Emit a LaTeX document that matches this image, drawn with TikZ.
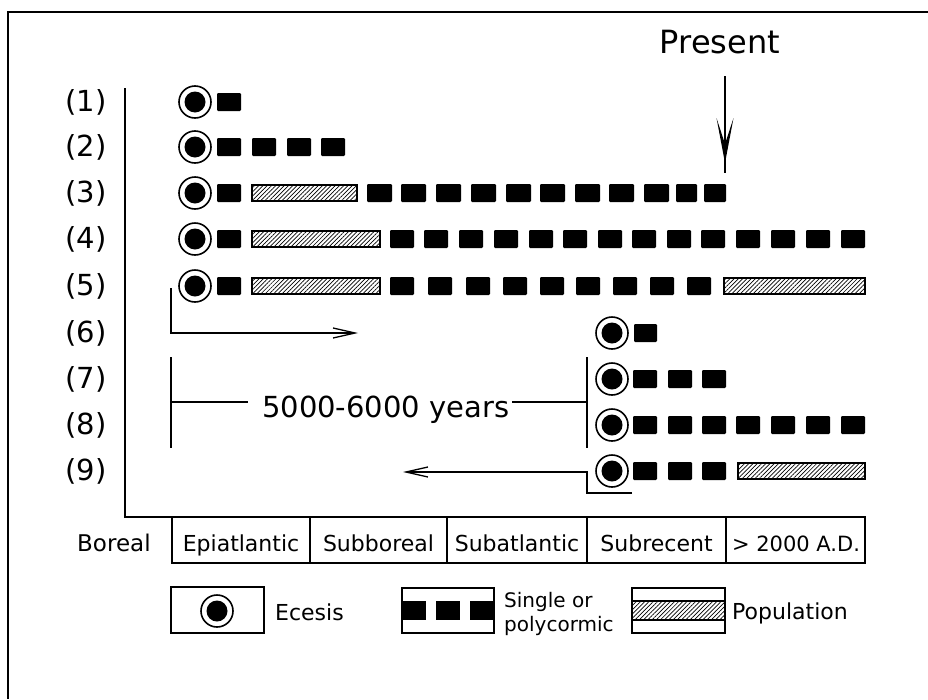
\documentclass[tikz,border=0pt]{standalone}
\usepackage{fontspec}
\setmainfont{DejaVu Sans}
\usetikzlibrary{arrows.meta,patterns.meta}
\newcommand{\fsz}[1]{\fontsize{#1}{#1}\selectfont}
\begin{document}
\begin{tikzpicture}[x=1pt,y=-1pt,
  blk/.style={fill=black,rounded corners=1.2pt},
  hatch/.style={draw=black,line width=1.1pt,pattern={Lines[angle=45,distance=3pt,line width=0.7pt]}},
  ecesis/.style={circle,draw,line width=1.6pt,minimum size=32pt,inner sep=0pt,
    path picture={\fill[black] (path picture bounding box.center) circle (10.5pt);}},
  rowlab/.style={font=\fsz{29},inner sep=0pt},
  axlab/.style={font=\fsz{22},inner sep=0pt,anchor=base},
  leglab/.style={font=\fsz{22},inner sep=0pt,anchor=base west},
  thin/.style={line width=1.3pt},
  barb/.style={thin,-{Straight Barb[length=22pt,width=10pt,line width=1.3pt]}}
]
\useasboundingbox (0,0) rectangle (928,699);
% frame
\draw[line width=2pt] (928,12) -- (8,12) -- (8,699);
% axes
\coordinate (axtop) at (125,88);
\coordinate (axorig) at (125,517);
\coordinate (axend) at (865,517);
\draw[thin] (axtop) -- (axorig) -- (axend);
% row labels
\foreach \n/\yy in {1/102,2/147,3/193,4/239,5/286,6/333,7/379,8/425,9/471}
  \node[rowlab] (lab\n) at (86,\yy) {(\n)};
% present
\node[font=\fsz{32},inner sep=0pt] (present) at (720,42) {Present};
\coordinate (presTop) at (725,76);
\coordinate (presTip) at (725,163);
\draw[thin] (presTop) -- ([yshift=-10pt]presTip);
\fill[black] (presTip) -- ++(-8.5,-45) -- ++(8.5,26) -- ++(8.5,-26) -- cycle;
% ecesis circles
\foreach \n/\xx/\yy in {1/195/102,2/195/147,3/195/193,4/195/239,5/195/286,6/612/333,7/612/379,8/612/425,9/612/471}
  \node[ecesis] (ec\n) at (\xx,\yy) {};
% row 1
\fill[blk] (217,93) rectangle ++(24,18);
% row 2
\foreach \x in {217,252,287,321} \fill[blk] (\x,138) rectangle ++(24,18);
% row 3
\fill[blk] (217,184) rectangle ++(24,18);
\draw[hatch] (252,185) rectangle (357,201);
\foreach \x in {367,401,436,471,506,540,575,609,644} \fill[blk] (\x,184) rectangle ++(25,18);
\fill[blk] (676,184) rectangle (697,202);
\fill[blk] (704,184) rectangle (726,202);
% row 4
\fill[blk] (217,230) rectangle ++(24,18);
\draw[hatch] (252,231) rectangle (380,247);
\foreach \x in {390,424,459,494,529,563,598,632,667,701,736,771,806,841} \fill[blk] (\x,230) rectangle ++(24,18);
% row 5
\fill[blk] (217,277) rectangle ++(24,18);
\draw[hatch] (252,278) rectangle (380,294);
\foreach \x in {390,428,466,503,540,576,613,650,687} \fill[blk] (\x,277) rectangle ++(24,18);
\draw[hatch] (724,278) rectangle (865,294);
% row 6
\fill[blk] (634,324) rectangle ++(23,18);
% row 7
\foreach \x in {633,668,702} \fill[blk] (\x,370) rectangle ++(24,18);
% row 8
\foreach \x in {633,668,702,736,771,806,841} \fill[blk] (\x,416) rectangle ++(24,18);
% row 9
\foreach \x in {633,668,702} \fill[blk] (\x,462) rectangle ++(24,18);
\draw[hatch] (738,463) rectangle (865,479);
% L arrow (row 6)
\coordinate (lTop) at (171,288);
\coordinate (lTip) at (358,333);
\draw[barb] (lTop) |- (lTip);
% bracket
\coordinate (bLt) at (171,357);
\coordinate (bLb) at (171,448);
\coordinate (bLm) at (171,402);
\coordinate (bRt) at (587,357);
\coordinate (bRb) at (587,448);
\coordinate (bRm) at (587,402);
\node[font=\fsz{29},inner sep=0pt,anchor=base west] (years) at (262,417) {5000-6000 years};
\coordinate (yl) at (248,402);
\coordinate (yr) at (512,402);
\draw[thin] (bLt) -- (bLb);
\draw[thin] (bRt) -- (bRb);
\draw[thin] (bLm) -- (yl);
\draw[thin] (yr) -- (bRm);
% row 9 arrow
\coordinate (r9end) at (632,493);
\coordinate (r9corner) at (587,472);
\coordinate (r9tip) at (403,472);
\draw[barb] (r9end) -| (r9corner) -- (r9tip);
% timeline boxes
\draw[line width=1.5pt] (172,517) rectangle (865,563);
\foreach \x in {310,447,587,726} \draw[line width=1.5pt] (\x,517) -- (\x,563);
\node[axlab,anchor=base west,font=\fsz{23}] (boreal) at (77,551) {Boreal};
\node[axlab] (epi) at (241,551) {Epiatlantic};
\node[axlab] (subb) at (378.5,551) {Subboreal};
\node[axlab] (suba) at (517,551) {Subatlantic};
\node[axlab] (subr) at (656.5,551) {Subrecent};
\node[axlab,font=\fsz{21}] (ad) at (796,551) {> 2000 A.D.};
% legend
\draw[line width=1.5pt] (171,587) rectangle (264,633);
\node[ecesis] (legec) at (217,611) {};
\node[leglab] (tecesis) at (275,620) {Ecesis};
\draw[line width=1.5pt] (402,588) rectangle (494,633);
\foreach \x in {402,436,470} \fill[black] (\x,601) rectangle ++(24,19);
\node[leglab,font=\fsz{20}] (tsingle) at (504,607) {Single or};
\node[leglab,font=\fsz{20}] (tpoly) at (504,631) {polycormic};
\draw[line width=1.5pt] (632,588) rectangle (725,633);
\draw[hatch] (632,601) rectangle (725,620);
\node[leglab] (tpop) at (732,619) {Population};
\end{tikzpicture}
\end{document}
